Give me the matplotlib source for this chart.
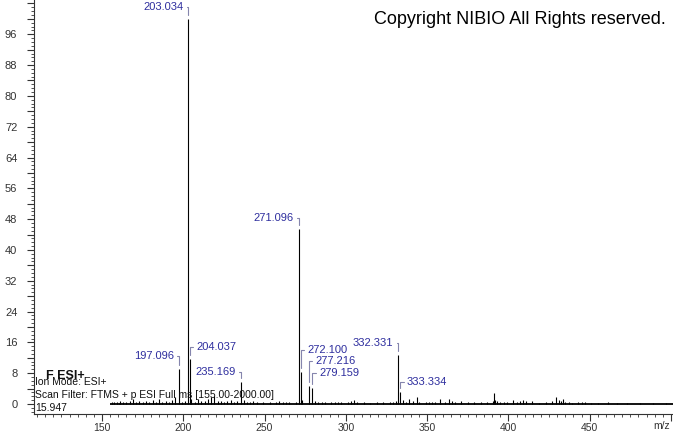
import matplotlib
matplotlib.use('Agg')  # no display
import matplotlib.pyplot as plt
from matplotlib.ticker import MultipleLocator, FuncFormatter

plt.rcParams['font.family'] = ['Liberation Sans', 'DejaVu Sans']

# labelled peaks (m/z, relative intensity %)
label_mz = [203.034, 197.096, 204.037, 235.169, 271.096,
            272.100, 277.216, 279.159, 332.331, 333.334]
label_int = [100.0, 9.1, 11.7, 5.6, 45.5, 8.3, 4.7, 4.2, 12.7, 3.1]

# unlabelled small peaks
minor_mz = [156.0, 157.1, 158.9, 160.1, 161.0, 163.1, 165.0, 167.1, 169.1, 171.1,
            173.0, 175.1, 177.1, 179.0, 181.1, 183.1, 185.1, 187.1, 189.1, 191.0,
            193.1, 194.9, 199.0, 201.1, 205.0, 207.1, 209.1, 211.1, 213.1, 215.1,
            217.1, 219.1, 221.1, 223.1, 225.1, 227.1, 229.1, 231.1, 233.1, 237.1,
            239.1, 241.1, 243.1, 245.1, 249.1, 253.1, 257.1, 259.1, 261.1, 263.1,
            265.1, 269.1, 273.1, 281.1, 283.1, 285.1, 287.1, 291.1, 293.1, 295.1,
            297.1, 301.1, 303.1, 305.1, 307.1, 311.1, 315.1, 319.1, 323.1, 327.1,
            329.1, 331.1, 335.1, 337.1, 338.9, 341.1, 343.6, 345.1, 349.1, 351.1,
            353.1, 355.1, 357.9, 361.1, 363.7, 365.1, 367.1, 371.1, 375.1, 379.1,
            383.1, 387.1, 390.6, 391.3, 392.0, 393.1, 395.1, 397.1, 399.1, 403.0,
            405.1, 407.1, 408.8, 411.1, 414.4, 419.1, 423.1, 427.1, 429.5, 431.3,
            432.2, 433.8, 435.1, 437.1, 439.1, 443.1, 445.1, 447.1, 451.1, 455.1,
            461.1, 467.1, 473.1, 481.1, 489.1, 497.1]
minor_int = [0.6, 0.4, 0.5, 0.3, 0.7, 0.4, 0.5, 0.8, 1.4, 0.6,
             0.9, 0.5, 0.7, 0.4, 1.0, 0.6, 1.2, 0.5, 0.8, 0.4,
             1.0, 1.8, 0.6, 0.9, 1.2, 0.6, 1.4, 0.7, 0.9, 1.2,
             1.8, 2.0, 0.9, 0.8, 0.6, 0.7, 1.0, 0.5, 0.8, 1.0,
             0.6, 0.5, 0.7, 0.4, 0.5, 0.6, 0.4, 0.9, 0.5, 0.4,
             0.5, 0.6, 1.0, 0.8, 0.6, 0.5, 0.4, 0.5, 0.4, 0.6,
             0.5, 0.6, 0.9, 1.0, 0.4, 0.4, 0.3, 0.4, 0.5, 0.6,
             0.5, 0.8, 1.0, 0.6, 1.2, 0.7, 1.8, 0.5, 0.4, 0.5,
             0.6, 0.4, 1.2, 0.4, 1.2, 0.8, 0.5, 0.7, 0.4, 0.5,
             0.4, 0.5, 0.9, 2.9, 1.0, 0.7, 0.4, 0.6, 0.4, 1.0,
             0.6, 0.8, 1.0, 0.7, 0.9, 0.3, 0.4, 0.7, 1.9, 1.0,
             0.8, 1.4, 0.6, 0.4, 0.3, 0.5, 0.6, 0.4, 0.3, 0.3,
             0.4, 0.3, 0.3, 0.3, 0.3, 0.3]

scan_start = 155.0
scan_end = 2000.0

info_lines = ["Ion Mode: ESI+",
              "Scan Filter: FTMS + p ESI Full ms [155.00-2000.00]",
              "15.947"]

# label placement: side of the peak and height of the text above the peak top (px)
label_layout = {203.034: ('left', 12), 197.096: ('left', 13), 204.037: ('right', 12),
                235.169: ('left', 10), 271.096: ('left', 11), 272.100: ('right', 22),
                277.216: ('right', 25), 279.159: ('right', 15), 332.331: ('left', 12),
                333.334: ('right', 10)}

W, H = 673, 433
fig = plt.figure(figsize=(W / 100, H / 100), dpi=100)
ax = fig.add_axes([34 / W, 19 / H, 639 / W, 414 / H])

# spectrum
ax.hlines(0, scan_start, scan_end, color='black', lw=1.3, zorder=2)
ax.vlines(minor_mz, 0, minor_int, color='black', lw=0.8, zorder=2)
ax.vlines(label_mz, 0, label_int, color='black', lw=0.8, zorder=2)

ax.set_xlim(108.1, 501.3)
ax.set_ylim(-2.6, 104.9)

# peak labels with bracket leaders
for mz, val in zip(label_mz, label_int):
    side, dy = label_layout[mz]
    if side == 'left':
        dx, ha, rel = -5, 'right', (1, 0.5)
    else:
        dx, ha, rel = 7, 'left', (0, 0.5)
    ax.annotate(f"{mz:.3f}", xy=(mz, val), xytext=(dx, dy), textcoords='offset pixels',
                ha=ha, va='center', fontsize=8, color='#2e2e9e',
                arrowprops=dict(arrowstyle='-', color='#8585ad', lw=0.8,
                                connectionstyle='angle,angleA=0,angleB=90,rad=0',
                                relpos=rel, shrinkA=0.5, shrinkB=3))

# axes styling
for s in ['top', 'right']:
    ax.spines[s].set_visible(False)
for s in ['left', 'bottom']:
    ax.spines[s].set_color('#333333')
    ax.spines[s].set_linewidth(0.8)

ax.xaxis.set_major_locator(MultipleLocator(50))
ax.xaxis.set_minor_locator(MultipleLocator(5))
ax.xaxis.set_major_formatter(FuncFormatter(lambda v, p: f"{int(v)}" if v < 500 else ""))
ax.yaxis.set_major_locator(MultipleLocator(4))
ax.yaxis.set_minor_locator(MultipleLocator(1))
ax.yaxis.set_major_formatter(FuncFormatter(lambda v, p: f"{int(v)}" if v % 8 == 0 and 0 <= v <= 96 else ""))
ax.tick_params(axis='both', which='major', direction='out', length=5, width=0.8,
               color='#333333', labelcolor='#333333')
ax.tick_params(axis='both', which='minor', direction='out', length=2.5, width=0.6, color='#333333')
ax.tick_params(axis='y', which='major', labelsize=8, pad=7)
ax.tick_params(axis='x', which='major', labelsize=7.5, pad=1.5)

fig.text(662 / W, 1 - 426 / H, 'm/z', ha='center', va='center', fontsize=7.5, color='#333333')

# copyright and scan info
fig.text(666 / W, 1 - 20 / H, 'Copyright NIBIO All Rights reserved.', ha='right', va='center',
         fontsize=13, color='black')
fig.text(46 / W, 1 - 376 / H, 'F ESI+', ha='left', va='center', fontsize=9,
         fontweight='bold', color='#111111')
for i, line in enumerate(info_lines):
    fig.text(35 / W, 1 - (382 + 13 * i) / H, line, ha='left', va='center',
             fontsize=7.5, color='#111111')

fig.savefig('out.png', dpi=100)
